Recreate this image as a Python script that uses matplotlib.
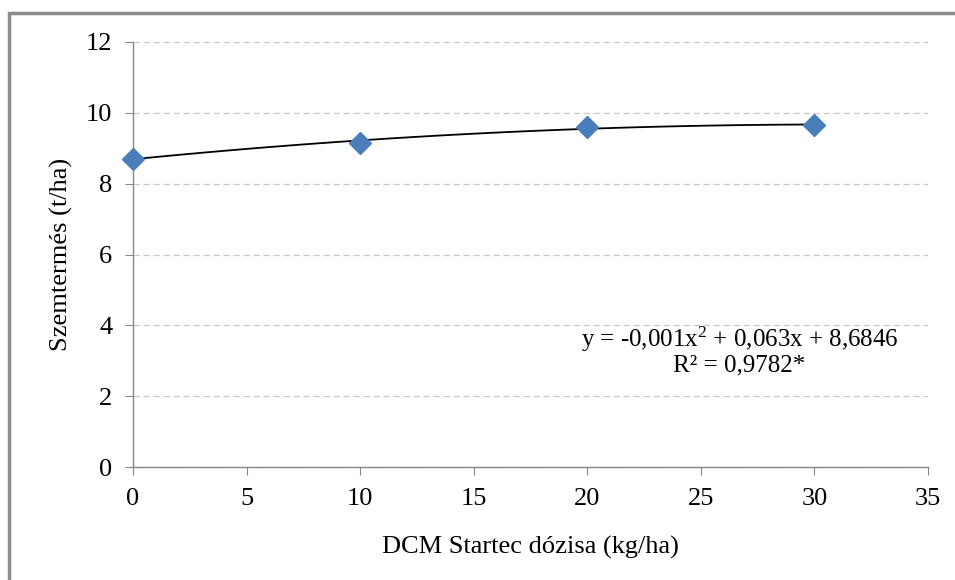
import numpy as np
import matplotlib.pyplot as plt
from matplotlib.patches import Rectangle

plt.rcParams['font.family'] = ['Liberation Serif', 'DejaVu Serif']
plt.rcParams['mathtext.fontset'] = 'custom'
plt.rcParams['mathtext.rm'] = 'Liberation Serif'
plt.rcParams['mathtext.default'] = 'rm'

dose = [0, 10, 20, 30]
yield_t = [8.71, 9.16, 9.61, 9.65]
x_ticks = [0, 5, 10, 15, 20, 25, 30, 35]
y_ticks = [0, 2, 4, 6, 8, 10, 12]
eq_line1 = 'y = -0,001x$^2$ + 0,063x + 8,6846'
eq_line2 = 'R² = 0,9782*'

fig = plt.figure(figsize=(9.55, 5.8), dpi=100)
ax = fig.add_axes([0.1393, 0.1948, 0.8324, 0.7328])

# outer frame (only top and left visible in the reference)
fig.patches.append(Rectangle((9 / 955, -0.1), 1.2, 1 - 13 / 580 + 0.1,
                             transform=fig.transFigure, fill=False,
                             edgecolor='#8c8c8c', linewidth=2.5))

coef = np.polyfit(dose, yield_t, 2)
xs = np.linspace(0, 30, 100)
ax.plot(xs, np.polyval(coef, xs), color='black', linewidth=1.3, zorder=2)
ax.plot(dose, yield_t, linestyle='none', marker='D', markersize=11,
        color='#4a7ebb', zorder=3, clip_on=False)

ax.set_xlim(0, 35)
ax.set_ylim(0, 12)
ax.set_xticks(x_ticks)
ax.set_yticks(y_ticks)
ax.yaxis.grid(True, color='#c8c8c8', linestyle=(0, (5, 3)), linewidth=0.9)
ax.set_axisbelow(True)
for s in ['top', 'right']:
    ax.spines[s].set_visible(False)
for s in ['left', 'bottom']:
    ax.spines[s].set_color('#868686')
    ax.spines[s].set_linewidth(1.0)
ax.tick_params(direction='out', length=6, color='#868686', labelsize=19, pad=9)

ax.set_xlabel('DCM Startec dózisa (kg/ha)', fontsize=19, labelpad=19)
ax.set_ylabel('Szemtermés (t/ha)', fontsize=19, labelpad=9)

# equation label, two centred lines
eq_cx = 0.763
ax.text(eq_cx, 0.301, eq_line1, transform=ax.transAxes, fontsize=18,
        ha='center', va='center')
ax.text(eq_cx, 0.238, eq_line2, transform=ax.transAxes, fontsize=18,
        ha='center', va='center')

fig.savefig('out.png', dpi=100)
